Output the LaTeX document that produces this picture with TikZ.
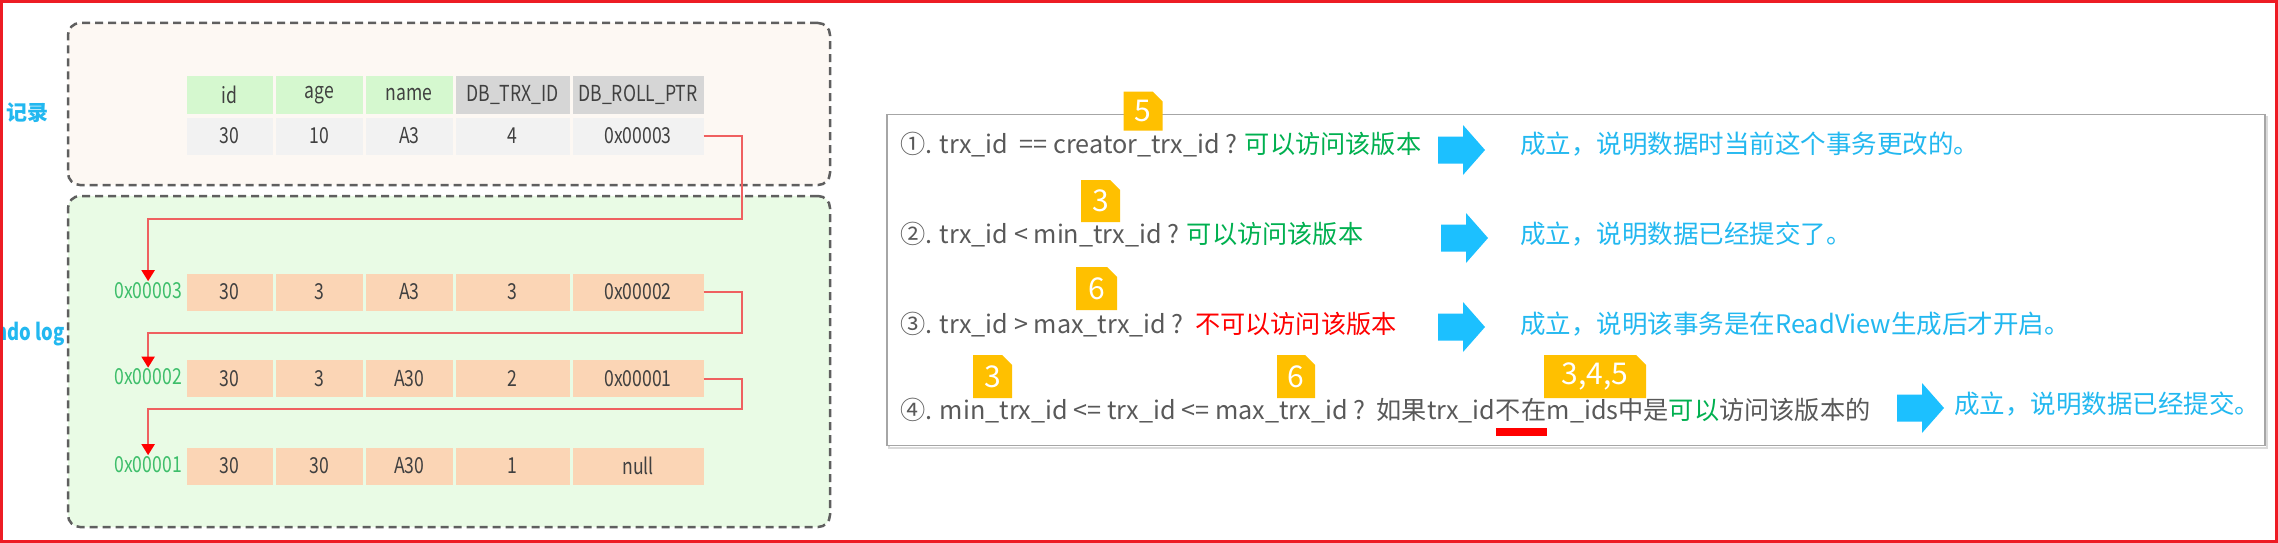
\documentclass[tikz,border=0pt]{standalone}
\usepackage{fontspec}
\setmainfont{Noto Sans CJK SC}
\newfontfamily\narrowf[FakeStretch=0.8]{Noto Sans CJK SC}
\usetikzlibrary{arrows.meta,shapes.misc,calc}
\definecolor{frameRed}{HTML}{ED1C24}
\definecolor{dashGray}{HTML}{5F5F5F}
\definecolor{topFill}{HTML}{FDF8F3}
\definecolor{botFill}{HTML}{E9FBE5}
\definecolor{hdrGreen}{HTML}{D5F8CF}
\definecolor{hdrGray}{HTML}{D6D6D6}
\definecolor{dataGray}{HTML}{F2F2F2}
\definecolor{peach}{HTML}{FBD5B5}
\definecolor{txtGray}{HTML}{404040}
\definecolor{addrGreen}{HTML}{3DBE6A}
\definecolor{skyBlue}{HTML}{22B8F0}
\definecolor{arrowBlue}{HTML}{1CC0FF}
\definecolor{okGreen}{HTML}{00B050}
\definecolor{noRed}{HTML}{FF0000}
\definecolor{badgeY}{HTML}{FFC000}
\definecolor{rowGray}{HTML}{595959}
\definecolor{panelGray}{HTML}{A6A6A6}
\definecolor{shadowGray}{HTML}{DADADA}
\definecolor{linkRed}{HTML}{EF6060}
\tikzset{
  dashbox/.style={draw=dashGray, line width=2.5pt, dash pattern=on 8pt off 5pt, rounded corners=12pt, inner sep=0pt},
  cell/.style={fill=#1, inner sep=0pt, minimum height=37pt, text=txtGray, font=\narrowf\fontsize{22}{26}\selectfont},
  addr/.style={text=addrGreen, inner sep=1pt, anchor=east, font=\narrowf\fontsize{22}{25}\selectfont},
  side/.style={text=skyBlue, inner sep=0pt, font=\bfseries\fontsize{21}{25}\selectfont},
  link/.style={draw=linkRed, line width=2pt, -{Triangle[length=11pt,width=13pt,color=red]}},
  rowtxt/.style={anchor=base west, inner sep=0pt, text=rowGray, font=\fontsize{25.2}{30}\selectfont},
  anstxt/.style={anchor=base west, inner sep=0pt, text=skyBlue, font=\fontsize{25.5}{30}\selectfont},
  badge/.style={chamfered rectangle, chamfered rectangle corners=north east, chamfered rectangle xsep=5pt, chamfered rectangle ysep=5pt, fill=badgeY, text=white, inner sep=0pt, font=\fontsize{30}{34}\selectfont},
  blockarrow/.pic={\fill[arrowBlue] (0,-13.5) -- (25,-13.5) -- (25,-25) -- (47,0) -- (25,25) -- (25,13.5) -- (0,13.5) -- cycle;}
}
\begin{document}
\begin{tikzpicture}[x=1pt,y=-1pt]
\useasboundingbox (0,0) rectangle (2278,543);
\fill[white] (0,0) rectangle (2278,543);

% dashed containers
\node[dashbox, fill=topFill, minimum width=762pt, minimum height=162pt] (recbox) at (449,104) {};
\node[dashbox, fill=botFill, minimum width=762pt, minimum height=331pt] (undobox) at (449,361.5) {};

% side labels
\node[side] (reclabel) at (27,113) {记录};
\node[side, anchor=east, font=\narrowf\bfseries\fontsize{23}{27}\selectfont] (undolabel) at (65,334) {undo log};

% header row
\foreach \cx/\cw/\t/\f [count=\i] in {229.75/86.5/id/hdrGreen,319.5/87/age/hdrGreen,409.25/86.5/name/hdrGreen,512.5/114/DB\_TRX\_ID/hdrGray,638/131/DB\_ROLL\_PTR/hdrGray}
  {\node[cell=\f, minimum width=\cw pt] (h\i) at (\cx,95) {\t};}

% data rows
\foreach \r/\ry/\f/\a/\b/\c/\d/\e in {d/136/dataGray/30/10/A3/4/0x00003,ua/292/peach/30/3/A3/3/0x00002,ub/378.5/peach/30/3/A30/2/0x00001,uc/466/peach/30/30/A30/1/null}
{
  \node[cell=\f, minimum width=86.5pt] (\r1) at (229.75,\ry) {\a};
  \node[cell=\f, minimum width=87pt] (\r2) at (319.5,\ry) {\b};
  \node[cell=\f, minimum width=86.5pt] (\r3) at (409.25,\ry) {\c};
  \node[cell=\f, minimum width=114pt] (\r4) at (512.5,\ry) {\d};
  \node[cell=\f, minimum width=131pt] (\r5) at (638,\ry) {\e};
}

% address labels
\node[addr] (pa) at (183,290.5) {0x00003};
\node[addr] (pb) at (183,377) {0x00002};
\node[addr] (pc) at (183,464.5) {0x00001};

% roll pointer links
\coordinate (k1) at (742,219);
\coordinate (k2) at (742,333);
\coordinate (k3) at (742,409);
\draw[link] (d5.east) -| (k1) -| (pa.north);
\draw[link] (ua5.east) -| (k2) -| (pb.north);
\draw[link] (ub5.east) -| (k3) -| (pc.north);

% right panel
\node[draw=shadowGray, line width=2pt, minimum width=1378pt, minimum height=331pt] (panelshadow) at (1578,282) {};
\node[draw=panelGray, fill=white, line width=1.5pt, minimum width=1378pt, minimum height=331pt] (panel) at (1576,280) {};

% conditions
\node[rowtxt] (q1) at (900,153) {①. trx\_id\ \ == creator\_trx\_id ? \textcolor{okGreen}{可以访问该版本}};
\node[rowtxt] (q2) at (900,243) {②. trx\_id < min\_trx\_id ? \textcolor{okGreen}{可以访问该版本}};
\node[rowtxt] (q3) at (900,333) {③. trx\_id > max\_trx\_id ?\ \ \textcolor{noRed}{不可以访问该版本}};
\node[rowtxt] (q4a) at (900,419) {④. min\_trx\_id <= trx\_id <= max\_trx\_id ?\ \ 如果trx\_id};
\node[rowtxt] (q4b) at (q4a.base east) {不在};
\node[rowtxt] (q4c) at (q4b.base east) {m\_ids中是\textcolor{okGreen}{可以}访问该版本的};
\fill[noRed] ($(q4b.base west)+(0,9)$) rectangle ($(q4b.base east)+(0,17)$);

% arrows
\pic (ar1) at (1438,150) {blockarrow};
\pic (ar2) at (1441,238) {blockarrow};
\pic (ar3) at (1438,327) {blockarrow};
\pic (ar4) at (1897,408) {blockarrow};

% answers
\node[anstxt] (a1) at (1520,153) {成立，说明数据时当前这个事务更改的。};
\node[anstxt] (a2) at (1520,243) {成立，说明数据已经提交了。};
\node[anstxt] (a3) at (1520,333) {成立，说明该事务是在ReadView生成后才开启。};
\node[anstxt] (a4) at (1954,413) {成立，说明数据已经提交。};

% badges
\node[badge, minimum width=39pt, minimum height=39pt] (b1) at (1143,111) {5};
\node[badge, minimum width=39pt, minimum height=42pt] (b2) at (1100.5,201) {3};
\node[badge, minimum width=41pt, minimum height=43pt] (b3) at (1096.5,288.5) {6};
\node[badge, minimum width=39pt, minimum height=43pt] (b4) at (992.5,376.5) {3};
\node[badge, minimum width=38pt, minimum height=43pt] (b5) at (1296,376.5) {6};
\node[badge, minimum width=102pt, minimum height=43pt] (b6) at (1595,376.5) {3,4,5};

% outer frame
\draw[frameRed, line width=3pt] (1.5,1.5) rectangle (2276.5,541.5);
\end{tikzpicture}
\end{document}
